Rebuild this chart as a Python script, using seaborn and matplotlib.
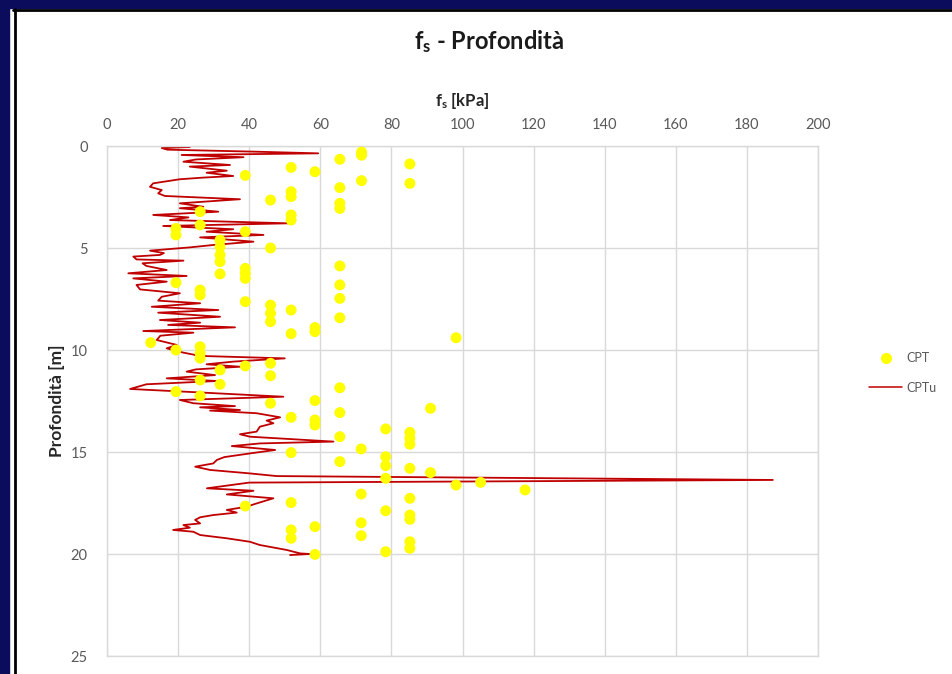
import matplotlib
matplotlib.use("Agg")
import matplotlib.pyplot as plt
import seaborn as sns
from matplotlib.patches import Rectangle
from matplotlib.lines import Line2D

# CPT: sleeve friction (kPa) at each reading depth (m)
cpt_depth = [0.30, 0.45, 0.65, 0.88, 1.05, 1.26, 1.44, 1.70, 1.83, 2.04, 2.24, 2.48,
             2.65, 2.81, 3.06, 3.22, 3.38, 3.63, 3.87, 4.04, 4.20, 4.36, 4.61, 4.94,
             5.00, 5.34, 5.67, 5.88, 6.00, 6.24, 6.27, 6.49, 6.70, 6.81, 7.06, 7.30,
             7.47, 7.63, 7.80, 8.04, 8.20, 8.42, 8.61, 8.90, 9.10, 9.20, 9.40, 9.64,
             9.84, 10.00, 10.16, 10.40, 10.65, 10.78, 10.98, 11.26, 11.47, 11.68, 11.85,
             12.04, 12.25, 12.48, 12.61, 12.86, 13.07, 13.30, 13.43, 13.68, 13.87, 14.04,
             14.25, 14.33, 14.62, 14.85, 15.03, 15.23, 15.47, 15.67, 15.80, 16.01, 16.29,
             16.49, 16.62, 16.86, 17.06, 17.27, 17.48, 17.65, 17.88, 18.09, 18.30, 18.47,
             18.66, 18.82, 19.10, 19.23, 19.40, 19.72, 19.89, 20.02]
cpt_fs = [71.6, 71.6, 65.5, 85.2, 51.8, 58.5, 38.9, 71.6, 85.2, 65.5, 51.8, 51.8,
          46.0, 65.5, 65.5, 26.2, 51.8, 51.8, 26.2, 19.4, 38.9, 19.4, 31.8, 31.8,
          46.0, 31.8, 31.8, 65.5, 38.9, 38.9, 31.8, 38.9, 19.4, 65.5, 26.2, 26.2,
          65.5, 38.9, 46.0, 51.8, 46.0, 65.5, 46.0, 58.5, 58.5, 51.8, 98.2, 12.3,
          26.2, 19.4, 26.2, 26.2, 46.0, 38.9, 31.8, 46.0, 26.2, 31.8, 65.5,
          19.4, 26.2, 58.5, 46.0, 91.0, 65.5, 51.8, 58.5, 58.5, 78.4, 85.2,
          65.5, 85.2, 85.2, 71.5, 51.8, 78.4, 65.5, 78.4, 85.2, 91.0, 78.4,
          105.1, 98.2, 117.6, 71.5, 85.2, 51.8, 38.9, 78.4, 85.2, 85.2, 71.5,
          58.5, 51.8, 71.5, 51.8, 85.2, 85.2, 78.4, 58.5]

# CPTu: continuous sleeve friction profile
cptu_depth = [0.05, 0.10, 0.18, 0.28, 0.36, 0.44, 0.55, 0.66, 0.77, 0.93, 1.01, 1.21,
              1.31, 1.47, 1.55, 1.63, 1.83, 2.00, 2.16, 2.32, 2.45, 2.61, 2.81, 2.98,
              3.05, 3.22, 3.38, 3.50, 3.63, 3.79, 3.92, 4.08, 4.20, 4.36, 4.48, 4.69,
              4.85, 4.97, 5.13, 5.25, 5.34, 5.42, 5.56, 5.62, 5.75, 5.88, 6.08, 6.24,
              6.37, 6.49, 6.65, 6.81, 7.03, 7.22, 7.39, 7.58, 7.71, 7.88, 8.04, 8.17,
              8.37, 8.53, 8.66, 8.77, 8.89, 9.07, 9.15, 9.30, 9.51, 9.75, 9.92, 10.13,
              10.29, 10.41, 10.57, 10.70, 10.82, 10.95, 11.06, 11.23, 11.39, 11.52, 11.68,
              11.91, 12.04, 12.29, 12.45, 12.61, 12.75, 12.81, 12.94, 12.97, 13.10, 13.30,
              13.46, 13.59, 13.76, 14.00, 14.13, 14.25, 14.49, 14.58, 14.71, 14.90, 15.07,
              15.25, 15.39, 15.56, 15.72, 15.88, 16.05, 16.18, 16.37, 16.50, 16.78, 16.90,
              17.08, 17.27, 17.52, 17.68, 17.84, 17.97, 18.09, 18.20, 18.33, 18.50, 18.58,
              18.71, 18.82, 18.91, 19.07, 19.23, 19.40, 19.56, 19.80, 19.97, 20.00, 20.05]
cptu_fs = [23.3, 15.4, 17.0, 42.1, 59.4, 21.0, 38.4, 25.0, 21.5, 34.6, 23.3, 33.7,
           28.0, 35.5, 27.0, 20.5, 13.0, 12.1, 15.4, 14.4, 16.3, 37.4, 20.5, 27.1,
           20.5, 31.3, 13.0, 22.9, 17.7, 51.0, 15.8, 35.5, 28.0, 44.0, 26.2, 41.2,
           30.0, 23.3, 12.1, 16.0, 14.9, 7.4, 8.3, 21.5, 10.0, 11.1, 16.8, 6.0,
           22.4, 7.4, 16.8, 8.3, 9.3, 20.5, 15.4, 14.4, 26.2, 12.6, 31.3, 14.4,
           31.8, 14.9, 26.2, 17.2, 36.0, 10.2, 24.3, 15.0, 14.0, 19.6, 16.8, 21.5,
           26.2, 50.0, 35.5, 28.0, 37.4, 25.0, 22.4, 30.4, 16.8, 30.9, 11.1,
           6.5, 21.5, 49.6, 20.5, 24.3, 36.0, 26.2, 37.4, 29.0, 42.1, 48.7,
           44.9, 46.8, 43.0, 42.1, 37.4, 40.2, 63.7, 43.0, 35.1, 47.3, 40.2,
           33.0, 30.9, 29.9, 24.8, 29.0, 40.2, 47.7, 187.3, 40.0, 28.1, 41.2,
           33.7, 46.8, 42.1, 39.3, 33.7, 36.5, 29.9, 26.2, 24.8, 26.2, 21.5,
           23.3, 18.6, 24.3, 26.2, 33.7, 40.2, 43.0, 50.5, 54.3, 57.1, 51.5]

x_ticks = [0, 20, 40, 60, 80, 100, 120, 140, 160, 180, 200]
y_ticks = [0, 5, 10, 15, 20, 25]

sns.set_theme(style="white")
plt.rcParams["font.family"] = ["Lato", "DejaVu Sans"]
plt.rcParams["mathtext.fontset"] = "custom"
plt.rcParams["mathtext.rm"] = "Lato"
plt.rcParams["mathtext.it"] = "Lato:italic"
plt.rcParams["mathtext.bf"] = "Lato:bold"

W, H = 952, 674
fig = plt.figure(figsize=(W / 100, H / 100), dpi=100)
fig.patch.set_facecolor("white")

# window frame
navy = "#0c0c5c"
fig.patches.append(Rectangle((0, 1 - 8 / H), 1, 8 / H, transform=fig.transFigure,
                             color=navy, zorder=0))
fig.patches.append(Rectangle((0, 0), 9 / W, 1, transform=fig.transFigure,
                             color=navy, zorder=0))
fig.lines.append(Line2D([13 / W, 1], [1 - 9.5 / H, 1 - 9.5 / H], transform=fig.transFigure,
                        color="black", lw=2))
fig.lines.append(Line2D([14.5 / W, 14.5 / W], [0, 1 - 9 / H], transform=fig.transFigure,
                        color="black", lw=2))

left, right, top, bottom = 107, 818, 146, 656
ax = fig.add_axes([left / W, 1 - bottom / H, (right - left) / W, (bottom - top) / H])

grid_c = "#d9d9d9"
ax.set_xlim(0, 200)
ax.set_ylim(25, 0)
ax.set_xticks(x_ticks)
ax.set_yticks(y_ticks)
ax.grid(True, color=grid_c, lw=1)
ax.set_axisbelow(True)
for s in ax.spines.values():
    s.set_color(grid_c)
    s.set_linewidth(1)

sns.lineplot(x=cptu_fs, y=cptu_depth, sort=False, estimator=None, color="#C00000",
             lw=1.3, ax=ax, zorder=2, legend=False)
sns.scatterplot(x=cpt_fs, y=cpt_depth, color="#FFFF00", s=62, edgecolor="none",
                ax=ax, zorder=3, legend=False)

ax.xaxis.tick_top()
ax.xaxis.set_label_position("top")
ax.tick_params(axis="both", length=0, labelsize=10.5, labelcolor="#595959", pad=10)
ax.tick_params(axis="y", pad=14)
ax.set_xlabel(r"$\mathbf{f_s}$ [kPa]", fontsize=12, fontweight="bold",
              color="#262626", labelpad=9)
ax.set_ylabel("Profondità [m]", fontsize=12.5, fontweight="bold", color="#262626",
              labelpad=4)

fig.text(489 / W, 1 - 42 / H, r"$\mathbf{f_s}$ - Profondità", ha="center", va="center",
         fontsize=17, fontweight="bold", color="#1a1a1a")

handles = [
    Line2D([], [], marker="o", ls="none", color="#FFFF00", markersize=7),
    Line2D([], [], color="#C00000", lw=1.1),
]
fig.legend(handles, ["CPT", "CPTu"], loc="center left",
           bbox_to_anchor=(858 / W, 1 - 373 / H), frameon=False, fontsize=9,
           labelcolor="#595959", handlelength=2.6, handletextpad=0.4, labelspacing=1.4)

fig.savefig("out.png", dpi=100, facecolor="white")
